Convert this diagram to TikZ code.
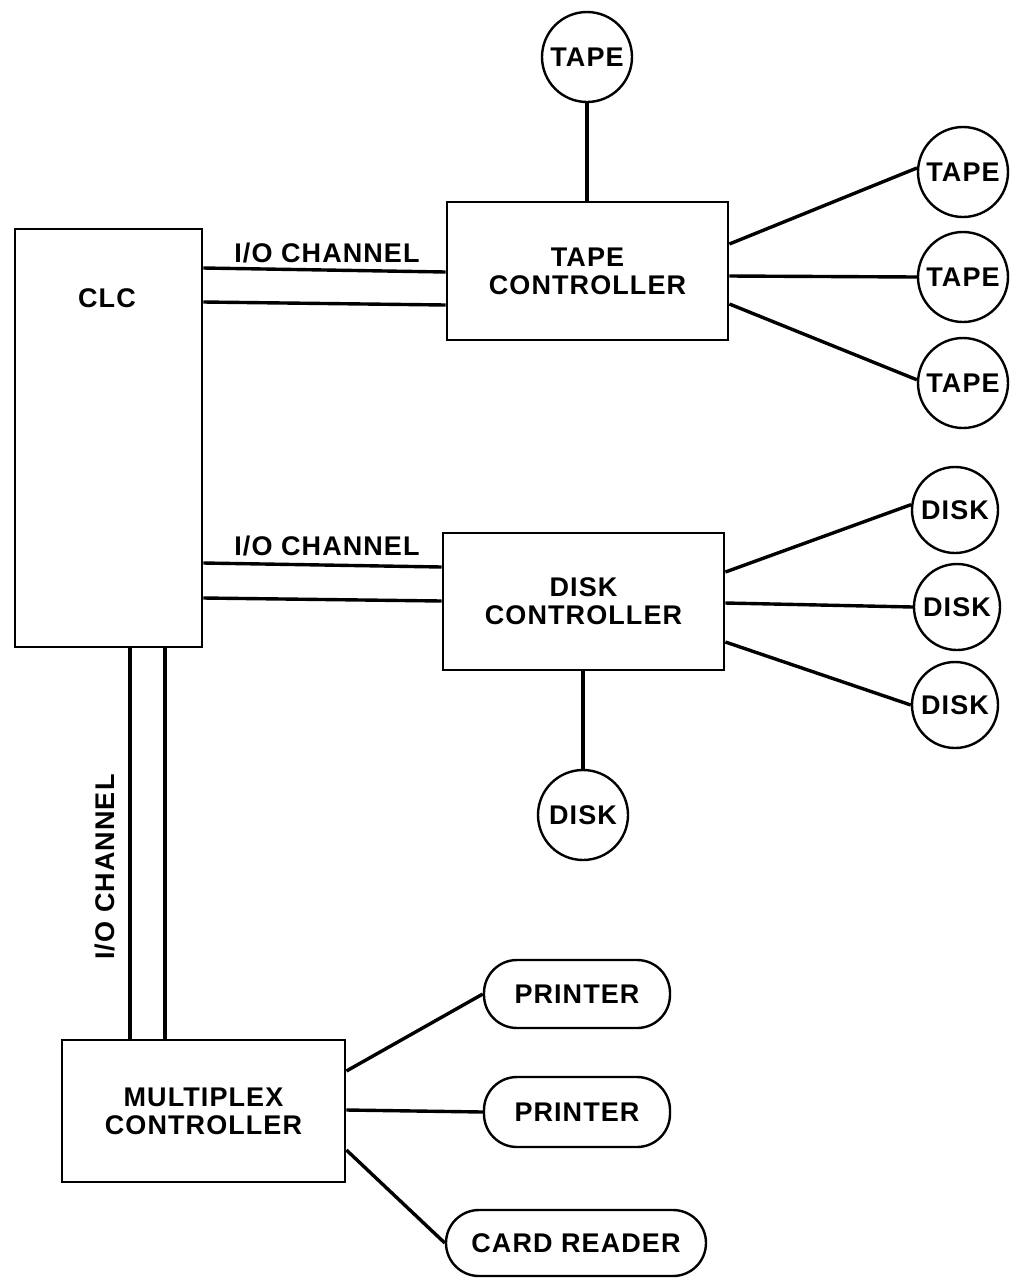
\documentclass[tikz,border=0pt]{standalone}
\usepackage{fontspec}
\setmainfont[LetterSpace=4]{Liberation Sans}
\begin{document}
\begin{tikzpicture}[x=1pt,y=-1pt,
  every node/.style={font=\bfseries\fontsize{27}{28}\selectfont},
  box/.style={draw,line width=2.8pt,rectangle,inner sep=0pt,align=center},
  dev/.style={draw,line width=2.4pt,circle,inner sep=0pt,minimum size=90pt},
  pill/.style={draw,line width=2.4pt,rounded corners=33pt,inner sep=0pt},
  link/.style={line width=3.4pt},
  lbl/.style={inner sep=0pt}]
\useasboundingbox (0,0) rectangle (1011,1278);

% central computer
\node[box,minimum width=187pt,minimum height=418pt] (clc) at (108.5,438) {};
\node[lbl] (clclab) at (107,298) {CLC};

% tape subsystem
\node[box,minimum width=281pt,minimum height=138pt] (tc) at (587.5,271) {TAPE\\CONTROLLER};
\node[dev] (t0) at (587,57) {TAPE};
\node[dev] (t1) at (963,172) {TAPE};
\node[dev] (t2) at (963,277) {TAPE};
\node[dev] (t3) at (963,383) {TAPE};

% disk subsystem
\node[box,minimum width=281pt,minimum height=137pt] (dc) at (583.5,601.5) {DISK\\CONTROLLER};
\node[dev,minimum size=86pt] (d1) at (955,510) {DISK};
\node[dev,minimum size=86pt] (d2) at (957,607) {DISK};
\node[dev,minimum size=86pt] (d3) at (955,705) {DISK};
\node[dev] (d4) at (583,815) {DISK};

% multiplex subsystem
\node[box,minimum width=283pt,minimum height=142pt] (mc) at (203.5,1111) {MULTIPLEX\\CONTROLLER};
\node[pill,minimum width=186pt,minimum height=68pt] (p1) at (577,994) {PRINTER};
\node[pill,minimum width=186pt,minimum height=70pt] (p2) at (577,1112) {PRINTER};
\node[pill,minimum width=260pt,minimum height=66pt] (cr) at (576,1243) {CARD READER};

% channel labels
\node[lbl] (ch1) at (327,253) {I/O CHANNEL};
\node[lbl] (ch2) at (327,546) {I/O CHANNEL};
\node[lbl,rotate=90] (ch3) at (105,867) {I/O CHANNEL};

% I/O channels
\draw[link] (clc.east |- 0,268) -- (tc.west |- 0,272);
\draw[link] (clc.east |- 0,302) -- (tc.west |- 0,305);
\draw[link] (clc.east |- 0,563) -- (dc.west |- 0,567);
\draw[link] (clc.east |- 0,598) -- (dc.west |- 0,601);
\draw[link] (clc.south -| 130,0) -- (mc.north -| 130,0);
\draw[link] (clc.south -| 165,0) -- (mc.north -| 165,0);

% tape drives
\draw[link] (t0.south) -- (t0.south |- tc.north);
\draw[link] (tc.east |- 0,244) -- (t1.175);
\draw[link] (tc.east |- 0,276) -- (t2.west);
\draw[link] (tc.east |- 0,304) -- (t3.176);

% disk drives
\draw[link] (dc.east |- 0,572) -- (d1.173);
\draw[link] (dc.east |- 0,603) -- (d2.west);
\draw[link] (dc.east |- 0,642) -- (d3.west);
\draw[link] (d4.north |- dc.south) -- (d4.north);

% unit record devices
\draw[link] (mc.east |- 0,1071) -- (p1.west);
\draw[link] (mc.east |- 0,1110) -- (p2.west);
\draw[link] (mc.east |- 0,1150) -- (cr.west);
\end{tikzpicture}
\end{document}
